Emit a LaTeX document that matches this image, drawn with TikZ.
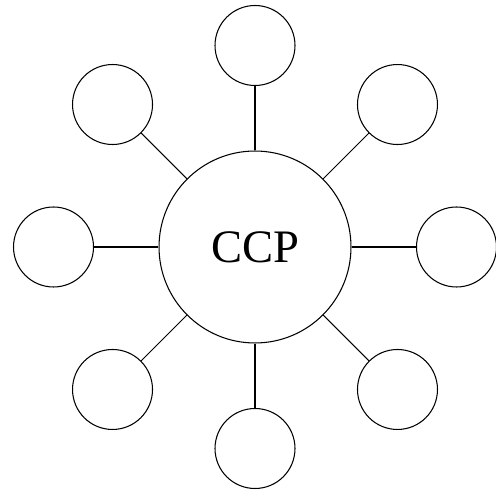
\documentclass[tikz,border=0pt]{standalone}
\usepackage{fontspec}
\setmainfont{Liberation Serif}
\usepackage{tikz}
\usetikzlibrary{calc,positioning}

\tikzset{
  hub/.style={draw,circle,line width=0.6pt,minimum size=3.84cm,inner sep=0pt,
    font=\fontsize{26.5}{30}\selectfont},
  leaf/.style={draw,circle,line width=0.6pt,minimum size=1.6cm,inner sep=0pt},
  spoke/.style={line width=0.6pt}
}

\begin{document}
\begin{tikzpicture}[x=0.02cm,y=0.02cm]
  \useasboundingbox (0,0) rectangle (495,496);
  \node[hub] (ccp) at (255,249) {CCP};
  \foreach \i in {0,...,7}{
    \node[leaf] (leaf\i) at ($(ccp.center)+(\i*45:201.5)$) {};
    \draw[spoke] (ccp) -- (leaf\i);
  }
\end{tikzpicture}
\end{document}
